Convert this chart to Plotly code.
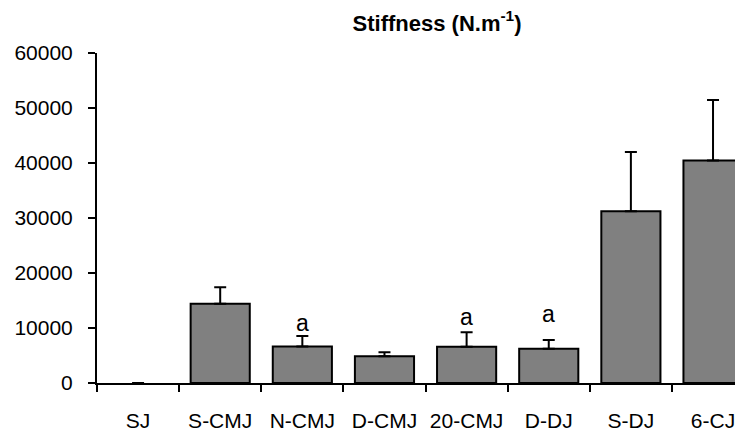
import plotly.graph_objects as go

categories = ["SJ", "S-CMJ", "N-CMJ", "D-CMJ", "20-CMJ", "D-DJ", "S-DJ", "6-CJ"]
stiffness = [0, 14400, 6650, 4850, 6600, 6250, 31250, 40450]
sd_plus = [0, 3000, 1900, 730, 2650, 1580, 10750, 11000]
sig_labels = ["", "", "a", "", "a", "a", "", ""]
sig_y = [0, 0, 10900, 0, 12050, 12500, 0, 0]

FONT = "Liberation Sans, Arial, Helvetica, sans-serif"
# the page body has an 8px default margin; layout is offset to compensate
OFF = 8

border_widths = [0 if v == 0 else 2 for v in stiffness]

fig = go.Figure()
fig.add_trace(go.Bar(
    x=categories, y=stiffness,
    width=0.72,
    marker=dict(color="#808080", line=dict(color="black", width=border_widths)),
    error_y=dict(type="data", array=sd_plus, arrayminus=[0] * len(sd_plus),
                 symmetric=False, color="black", thickness=2, width=6),
    showlegend=False,
))

for c, lab, yv in zip(categories, sig_labels, sig_y):
    if lab:
        fig.add_annotation(x=c, y=yv, text=lab, showarrow=False,
                           xref="x", yref="y", yanchor="middle",
                           font=dict(family=FONT, size=23, color="black"))

fig.update_layout(
    width=743, height=434,
    margin=dict(l=97 - OFF, r=OFF, t=53 - OFF, b=51 + OFF, autoexpand=False),
    paper_bgcolor="white", plot_bgcolor="white",
    font=dict(family=FONT, size=21, color="black"),
    title=dict(text="<b>Stiffness (N.m<sup>-1</sup>)</b>", x=(437 - OFF) / 743, xref="container",
               xanchor="center", y=1 - (23 - OFF) / 434, yref="container", yanchor="middle",
               font=dict(family=FONT, size=22, color="black")),
)

fig.update_xaxes(
    type="category", range=[-0.5, 7.365], automargin=False, tickangle=0,
    showline=True, linecolor="black", linewidth=2,
    ticks="outside", tickson="boundaries", ticklen=7, tickwidth=2, tickcolor="black",
    showgrid=False, zeroline=False, ticklabelstandoff=18,
    tickfont=dict(family=FONT, size=21, color="black"),
)
fig.update_yaxes(
    range=[0, 60000], automargin=False,
    tickvals=[0, 10000, 20000, 30000, 40000, 50000, 60000],
    ticktext=["0", "10000", "20000", "30000", "40000", "50000", "60000"],
    showline=True, linecolor="black", linewidth=2,
    ticks="outside", ticklen=7, tickwidth=2, tickcolor="black",
    showgrid=False, zeroline=False, ticklabelstandoff=11,
    tickfont=dict(family=FONT, size=21, color="black"),
)

fig.write_html("out.html")
